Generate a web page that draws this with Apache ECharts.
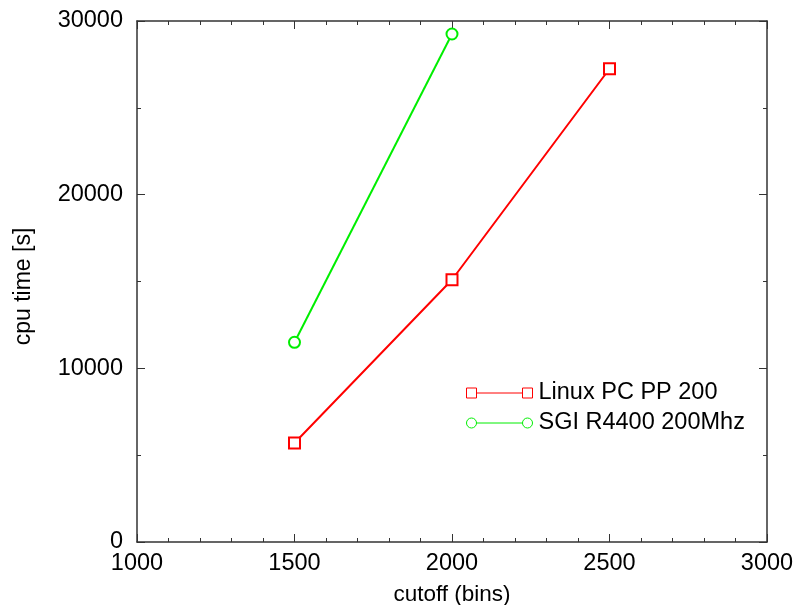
<!DOCTYPE html>
<html><head><meta charset="utf-8">
<script src="https://cdn.jsdelivr.net/npm/echarts@6/dist/echarts.min.js"></script>
<style>html,body{margin:0;padding:0;background:#fff;overflow:hidden}#c{width:793px;height:605px}</style>
</head><body><div id="c"></div>
<script>
const seriesNames = ['Linux PC PP 200', 'SGI R4400 200Mhz'];
const linuxX = [1500, 2000, 2500];
const linuxY = [5700, 15100, 27250];
const sgiX = [1500, 2000];
const sgiY = [11500, 29250];
const xName = 'cutoff (bins)';
const yName = 'cpu time [s]';

const chart = echarts.init(document.getElementById('c'), null, {renderer: 'canvas'});
const font = 'Liberation Sans, Arial, Helvetica, sans-serif';
const axisColor = '#333';
const txt = '#000';
const base = {
  axisLine: {show: true, onZero: false, lineStyle: {color: axisColor, width: 1.5}},
  axisTick: {show: true, inside: true, length: 8, lineStyle: {color: axisColor, width: 1}},
  splitLine: {show: false}
};
function minor(n) { return {show: true, splitNumber: n, length: 4, lineStyle: {color: axisColor, width: 1}}; }
const squareIcon = 'path://M0,0h10v10h-10z M10,5h46 M56,0h10v10h-10z';
const circleIcon = 'path://M0,5a5,5 0 1,0 10,0a5,5 0 1,0 -10,0z M10,5h46 M56,5a5,5 0 1,0 10,0a5,5 0 1,0 -10,0z';

chart.setOption({
  animation: false,
  textStyle: {fontFamily: font},
  grid: {left: 137, right: 26, top: 21, bottom: 63, containLabel: false, outerBoundsMode: 'none'},
  xAxis: [
    Object.assign({type: 'value', min: 1000, max: 3000, interval: 500, position: 'bottom',
      name: xName, nameLocation: 'middle', nameGap: 41,
      nameTextStyle: {color: txt, fontSize: 22.5, fontFamily: font},
      axisLabel: {color: txt, fontSize: 23.5, fontFamily: font, margin: 10, formatter: v => String(v)},
      minorTick: minor(5)}, base),
    Object.assign({type: 'value', min: 1000, max: 3000, interval: 500, position: 'top',
      axisLabel: {show: false}, minorTick: minor(5)}, base)
  ],
  yAxis: [
    Object.assign({type: 'value', min: 0, max: 30000, interval: 10000, position: 'left',
      name: yName, nameLocation: 'middle', nameGap: 102, nameRotate: 90,
      nameTextStyle: {color: txt, fontSize: 23, fontFamily: font, padding: [0, 10, 0, 0]},
      axisLabel: {color: txt, fontSize: 23.5, fontFamily: font, margin: 14, formatter: v => String(v)},
      minorTick: minor(2)}, base),
    Object.assign({type: 'value', min: 0, max: 30000, interval: 10000, position: 'right',
      axisLabel: {show: false}, minorTick: minor(2)}, base)
  ],
  legend: {
    orient: 'vertical', left: 461, top: 376,
    itemWidth: 66, itemHeight: 10, itemGap: 6,
    textStyle: {color: txt, fontSize: 23.5, fontFamily: font, lineHeight: 22, padding: [0, 0, 0, 1]},
    data: [
      {name: seriesNames[0], icon: squareIcon, itemStyle: {color: 'transparent', borderColor: '#ff0000', borderWidth: 1}},
      {name: seriesNames[1], icon: circleIcon, itemStyle: {color: 'transparent', borderColor: '#00ee00', borderWidth: 1}}
    ]
  },
  series: [
    {name: seriesNames[0], type: 'line', data: linuxX.map((x, i) => [x, linuxY[i]]),
      symbol: 'emptyRect', symbolSize: 11, color: '#ff0000',
      lineStyle: {color: '#ff0000', width: 2}, itemStyle: {color: '#ff0000', borderWidth: 2}},
    {name: seriesNames[1], type: 'line', data: sgiX.map((x, i) => [x, sgiY[i]]),
      symbol: 'emptyCircle', symbolSize: 11, color: '#00ee00',
      lineStyle: {color: '#00ee00', width: 2}, itemStyle: {color: '#00ee00', borderWidth: 2}}
  ]
});
</script></body></html>
